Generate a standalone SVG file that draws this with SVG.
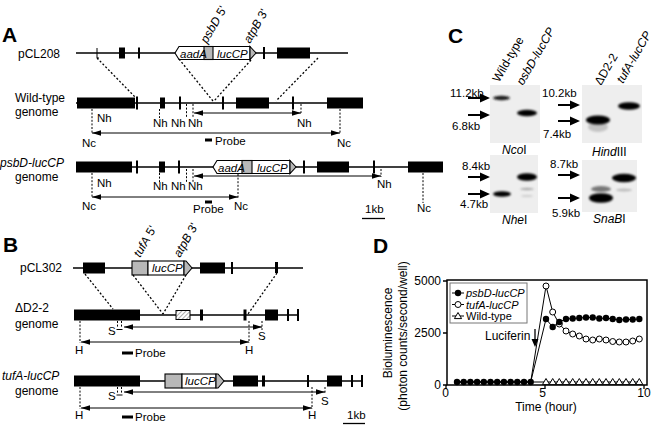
<svg xmlns="http://www.w3.org/2000/svg" width="656" height="429" viewBox="0 0 656 429">
<defs>
<style>
text{font-family:"Liberation Sans",Arial,Helvetica,sans-serif;fill:#000;font-size:12px}
.s{font-size:11.5px}
.it{font-style:italic}
.pl{font-size:21px;font-weight:bold}
.ln{stroke:#000;stroke-width:1.3;fill:none}
.tk{stroke:#000;stroke-width:2}
.ds{stroke:#000;stroke-width:1;stroke-dasharray:2 1.6;fill:none}
.dt{stroke:#000;stroke-width:1.3;stroke-dasharray:2 2;fill:none}
.ar{stroke:#000;stroke-width:1;fill:none;marker-start:url(#ah);marker-end:url(#ah)}
.cw{fill:#fff;stroke:#000;stroke-width:1.1}
.cg{fill:#b8b8b8;stroke:#000;stroke-width:1.1}
.blot{fill:#eeeeee}
.band{filter:url(#bl)}
.dl{stroke:#000;stroke-width:1;fill:none}
</style>
<marker id="ah" viewBox="0 0 10 6" refX="10" refY="3" markerWidth="9" markerHeight="6" markerUnits="userSpaceOnUse" orient="auto-start-reverse"><path d="M0,0L10,3L0,6z" fill="#000"/></marker>
<filter id="bl" x="-50%" y="-150%" width="200%" height="400%"><feGaussianBlur stdDeviation="1.1"/></filter>
<pattern id="hatch" width="3" height="3" patternUnits="userSpaceOnUse" patternTransform="rotate(45)"><rect width="3" height="3" fill="#fff"/><line x1="0" y1="0" x2="0" y2="3" stroke="#777" stroke-width="1.2"/></pattern>
<path id="ba" d="M0,-1.1H12V-4.5L22,0L12,4.5V1.1H0z" fill="#000"/>
<circle id="fc" r="3.2" fill="#000"/>
<circle id="oc" r="3" fill="#fff" stroke="#000" stroke-width="1"/>
<path id="tr" d="M0,-3.5L3.6,2.6H-3.6z" fill="#fff" stroke="#000" stroke-width="1"/>
</defs>
<rect width="656" height="429" fill="#fff"/>

<!-- ================= Panel A ================= -->
<g id="panelA">
<text class="pl" x="2" y="42">A</text>

<g id="pCL208">
<text x="18" y="58">pCL208</text>
<line class="ln" x1="76" y1="53" x2="348" y2="53"/>
<path class="dl" d="M97,48V58H99" stroke-width="1.8"/>
<rect x="119" y="47.5" width="6" height="11"/>
<line class="tk" x1="139" y1="47.5" x2="139" y2="58.5"/>
<path class="cw" d="M175,53L179,46.5H250V59.5H179Z"/>
<rect class="cg" x="204" y="46.5" width="9" height="13"/>
<path class="cg" d="M250,46.5L256,53L250,59.5Z"/>
<text class="s it" x="180" y="57.5">aadA</text>
<text class="s it" x="217" y="57.5">lucCP</text>
<text transform="translate(207,44) rotate(-60)"><tspan class="it">psbD</tspan> 5'</text>
<text transform="translate(250,44) rotate(-60)"><tspan class="it">atpB</tspan> 3'</text>
<line class="tk" x1="264" y1="47" x2="264" y2="59"/>
<rect x="277" y="47.5" width="33" height="11"/>
</g>

<g id="wildtype-genome">
<text x="15" y="102">Wild-type</text>
<text x="15" y="116">genome</text>
<line class="ln" x1="76" y1="103" x2="363" y2="103"/>
<rect x="77" y="97.5" width="58" height="11"/>
<line class="tk" x1="137" y1="96.5" x2="137" y2="109.5"/>
<rect x="160" y="97.5" width="5" height="11"/>
<line class="tk" x1="180" y1="96.5" x2="180" y2="109.5"/>
<line class="tk" x1="223" y1="96.5" x2="223" y2="109.5"/>
<rect x="236" y="97.5" width="33" height="11"/>
<line class="tk" x1="293" y1="96.5" x2="293" y2="109.5"/>
<rect x="327" y="97.5" width="36" height="11"/>
<path class="ds" d="M92,109V134M159.5,109V118M186.5,104V118M193,104V118M301,104V113M340,109V134"/>
<line class="ar" x1="194" y1="113" x2="301" y2="113"/>
<line class="ar" x1="92" y1="133" x2="340" y2="133"/>
<text class="s" x="97" y="122">Nh</text>
<text class="s" x="153" y="127">Nh</text>
<text class="s" x="171" y="127">Nh</text>
<text class="s" x="188" y="127">Nh</text>
<text class="s" x="297" y="127">Nh</text>
<text class="s" x="82" y="147">Nc</text>
<text class="s" x="337" y="147">Nc</text>
<rect x="205" y="138.5" width="7" height="3"/>
<text class="s" x="215" y="145">Probe</text>
</g>

<g id="psbD-genome">
<text class="it" x="0" y="167">psbD-lucCP</text>
<text x="15" y="181">genome</text>
<line class="ln" x1="76" y1="167" x2="408" y2="167"/>
<rect x="76" y="161.5" width="56" height="11"/>
<line class="tk" x1="137" y1="160.5" x2="137" y2="173.5"/>
<rect x="159" y="161.5" width="6" height="11"/>
<line class="tk" x1="179" y1="160.5" x2="179" y2="173.5"/>
<path class="cw" d="M213,167L217,160.5H290V173.5H217Z"/>
<rect class="cg" x="242" y="160.5" width="10" height="13"/>
<path class="cg" d="M290,160.5L296,167L290,173.5Z"/>
<text class="s it" x="218" y="171.5">aadA</text>
<text class="s it" x="257" y="171.5">lucCP</text>
<line class="tk" x1="304" y1="160.5" x2="304" y2="173.5"/>
<rect x="317" y="161.5" width="32" height="11"/>
<line class="tk" x1="374" y1="160.5" x2="374" y2="173.5"/>
<rect x="408" y="161.5" width="35" height="11"/>
<path class="ds" d="M92,173V198M159.5,173V182M186.5,169V182M193,169V182M381,169V177M238,174V198M423,173V203"/>
<line class="ar" x1="194" y1="176" x2="381" y2="176"/>
<line class="ar" x1="92" y1="197" x2="238" y2="197"/>
<text class="s" x="97" y="187">Nh</text>
<text class="s" x="153" y="190">Nh</text>
<text class="s" x="171" y="190">Nh</text>
<text class="s" x="188" y="190">Nh</text>
<text class="s" x="377" y="188">Nh</text>
<text class="s" x="82" y="210">Nc</text>
<text class="s" x="234" y="210">Nc</text>
<text class="s" x="417" y="212">Nc</text>
<rect x="205" y="200.5" width="7" height="3"/>
<text class="s" x="193" y="213">Probe</text>
<text class="s" x="365" y="213">1kb</text>
<line class="ln" x1="362" y1="218.5" x2="385" y2="218.5"/>
</g>
</g>

<!-- ================= Panel B ================= -->
<g id="panelB">
<text class="pl" x="3" y="252">B</text>

<g id="pCL302">
<text x="20" y="272">pCL302</text>
<line class="ln" x1="73" y1="268" x2="303" y2="268"/>
<rect x="83" y="262.5" width="22" height="11"/>
<rect class="cg" x="132" y="261" width="16" height="14"/>
<rect class="cw" x="148" y="261" width="36" height="14"/>
<path class="cg" d="M184,261H186L192,268L186,275H184Z"/>
<text class="s it" x="152" y="272">lucCP</text>
<text transform="translate(140,258) rotate(-60)"><tspan class="it">tufA</tspan> 5'</text>
<text transform="translate(180,258) rotate(-60)"><tspan class="it">atpB</tspan> 3'</text>
<rect x="200" y="262.5" width="25" height="11"/>
<line class="tk" x1="232" y1="262" x2="232" y2="274"/>
<rect x="275" y="262" width="3" height="11"/>
</g>

<g id="dD2-genome">
<text x="15" y="312">ΔD2-2</text>
<text x="15" y="328">genome</text>
<line class="ln" x1="74" y1="315" x2="299" y2="315"/>
<rect x="74" y="309.5" width="66" height="11"/>
<rect x="176" y="310.5" width="14" height="9" fill="url(#hatch)" stroke="#000" stroke-width="1"/>
<rect x="200" y="309.5" width="3" height="11"/>
<rect x="243.5" y="309.5" width="3" height="11"/>
<rect x="265" y="309.5" width="13" height="11"/>
<line class="tk" x1="288" y1="309" x2="288" y2="321"/>
<line class="tk" x1="298" y1="309" x2="298" y2="321"/>
<path class="ds" d="M80,321V343M249,321V343M262,321V330M117.5,321V328M121.5,321V328"/>
<path class="dl" d="M116.5,329.5H122.5"/>
<line class="ar" x1="124" y1="327" x2="262" y2="327"/>
<line class="ar" x1="81" y1="342" x2="249" y2="342"/>
<text class="s" x="108" y="335">S</text>
<text class="s" x="258" y="340">S</text>
<text class="s" x="75" y="354">H</text>
<text class="s" x="245" y="354">H</text>
<rect x="122" y="351.5" width="11" height="3"/>
<text class="s" x="135" y="357">Probe</text>
</g>

<g id="tufA-genome">
<text class="it" x="2" y="380">tufA-lucCP</text>
<text x="15" y="395">genome</text>
<line class="ln" x1="74" y1="381" x2="362" y2="381"/>
<rect x="74" y="375.5" width="66" height="11"/>
<rect class="cg" x="165" y="374" width="17" height="14"/>
<rect class="cw" x="182" y="374" width="34" height="14"/>
<path class="cg" d="M216,374H218L224,381L218,388H216Z"/>
<text class="s it" x="185" y="385">lucCP</text>
<rect x="233" y="375.5" width="25" height="11"/>
<rect x="262" y="375.5" width="3" height="11"/>
<line class="tk" x1="308" y1="375" x2="308" y2="387"/>
<rect x="327" y="375.5" width="15" height="11"/>
<line class="tk" x1="352" y1="375" x2="352" y2="387"/>
<line class="tk" x1="362" y1="375" x2="362" y2="387"/>
<path class="ds" d="M80,387V409M312,387V409M325,387V394M117.5,387V394M121.5,387V394"/>
<path class="dl" d="M116.5,395H122.5"/>
<line class="ar" x1="124" y1="392" x2="325" y2="392"/>
<line class="ar" x1="81" y1="408" x2="312" y2="408"/>
<text class="s" x="108" y="400">S</text>
<text class="s" x="321" y="405">S</text>
<text class="s" x="75" y="419">H</text>
<text class="s" x="308" y="419">H</text>
<rect x="122" y="415.5" width="11" height="3"/>
<text class="s" x="135" y="421">Probe</text>
<text class="s" x="347" y="419">1kb</text>
<line class="ln" x1="343" y1="423.5" x2="365" y2="423.5"/>
</g>
</g>

<!-- connectors -->
<g id="connectors">
<path class="dt" d="M97,58L136,98M179,59L213,101M251,60L214,101M318,58L276,101"/>
<path class="dt" d="M85,274L113,309M133,275L163,314M186,275L163,314M277,273L248,314"/>
</g>

<!-- ================= Panel C ================= -->
<g id="panelC">
<text class="pl" x="448" y="43">C</text>
<text transform="translate(499,83) rotate(-60)">Wild-type</text>
<text class="it" transform="translate(523,86) rotate(-60)">psbD-lucCP</text>
<text transform="translate(601,86) rotate(-60)">ΔD2-2</text>
<text class="it" transform="translate(623,84) rotate(-60)">tufA-lucCP</text>

<g id="blot-NcoI">
<rect class="blot" x="490" y="85" width="50" height="58"/>
<ellipse class="band" cx="501.5" cy="98" rx="8.5" ry="2.2" fill="#1a1a1a"/>
<ellipse class="band" cx="527" cy="113" rx="10" ry="3.2" fill="#000"/>
<use href="#ba" x="468" y="98"/>
<use href="#ba" x="468" y="115"/>
<text class="s" x="450" y="97">11.2kb</text>
<text class="s" x="452" y="130">6.8kb</text>
<text x="502" y="154"><tspan class="it">Nco</tspan>I</text>
</g>

<g id="blot-HindIII">
<rect class="blot" x="582" y="85" width="60" height="58"/>
<ellipse class="band" cx="629" cy="106" rx="11" ry="3.8" fill="#000"/>
<ellipse class="band" cx="598" cy="127" rx="10" ry="5" fill="#999" opacity="0.5"/>
<ellipse class="band" cx="598" cy="120" rx="12" ry="4.5" fill="#000"/>
<use href="#ba" x="558" y="105"/>
<use href="#ba" x="558" y="121"/>
<text class="s" x="542" y="97">10.2kb</text>
<text class="s" x="543" y="138">7.4kb</text>
<text x="592" y="156"><tspan class="it">Hind</tspan>III</text>
</g>

<g id="blot-NheI">
<rect class="blot" x="490" y="155" width="48" height="58"/>
<ellipse class="band" cx="527" cy="177" rx="10" ry="3.8" fill="#000"/>
<ellipse class="band" cx="527" cy="189" rx="7" ry="1.2" fill="#aaa"/>
<ellipse class="band" cx="527" cy="196" rx="6" ry="1" fill="#ccc"/>
<ellipse class="band" cx="502" cy="194" rx="9" ry="2.8" fill="#000"/>
<use href="#ba" x="468" y="177"/>
<use href="#ba" x="468" y="194"/>
<text class="s" x="462" y="170">8.4kb</text>
<text class="s" x="460" y="208">4.7kb</text>
<text x="502" y="224"><tspan class="it">Nhe</tspan>I</text>
</g>

<g id="blot-SnaBI">
<rect class="blot" x="582" y="160" width="55" height="52"/>
<ellipse class="band" cx="624" cy="178" rx="12" ry="4.2" fill="#000"/>
<ellipse class="band" cx="624" cy="190" rx="8" ry="1.5" fill="#bbb"/>
<ellipse class="band" cx="601" cy="189" rx="10" ry="3" fill="#777"/>
<ellipse class="band" cx="601" cy="198" rx="12" ry="4.8" fill="#000"/>
<use href="#ba" x="558" y="175"/>
<use href="#ba" x="558" y="198"/>
<text class="s" x="550" y="168">8.7kb</text>
<text class="s" x="552" y="217">5.9kb</text>
<text x="593" y="223"><tspan class="it">SnaB</tspan>I</text>
</g>
</g>

<!-- ================= Panel D ================= -->
<g id="panelD">
<text class="pl" x="373" y="253">D</text>
<text transform="translate(392,333) rotate(-90)" text-anchor="middle">Bioluminescence</text>
<text transform="translate(407,336) rotate(-90)" text-anchor="middle">(photon counts/second/well)</text>
<rect x="447" y="280" width="200" height="105" fill="none" stroke="#000" stroke-width="1.5"/>
<path d="M443,281H447M443,333H447M443,385H447M446,385V389M545,385V389M644,385V389" stroke="#000" stroke-width="1.3"/>
<text x="441" y="285" text-anchor="end">5000</text>
<text x="441" y="337" text-anchor="end">2500</text>
<text x="441" y="389" text-anchor="end">0</text>
<text x="445.5" y="397" text-anchor="middle">0</text>
<text x="542.5" y="397" text-anchor="middle">5</text>
<text x="644" y="397" text-anchor="middle">10</text>
<text x="546" y="411" text-anchor="middle">Time (hour)</text>

<g id="legend">
<rect x="450" y="283" width="77" height="40" fill="#fff" stroke="#777" stroke-width="1"/>
<path d="M452,293H464M452,304.5H464M452,316H464" stroke="#000" stroke-width="1"/>
<use href="#fc" x="458" y="293"/>
<use href="#oc" x="458" y="304.5"/>
<use href="#tr" x="458" y="316"/>
<text class="it" x="466" y="297" style="font-size:11px">psbD-lucCP</text>
<text class="it" x="466" y="308.5" style="font-size:11px">tufA-lucCP</text>
<text x="466" y="320" style="font-size:11px">Wild-type</text>
</g>

<g id="series-wt">
<polyline class="dl" points="457,382 639.3,382"/>
<use href="#tr" x="546" y="382"/><use href="#tr" x="552.7" y="382"/><use href="#tr" x="559.3" y="382"/><use href="#tr" x="566" y="382"/><use href="#tr" x="572.7" y="382"/><use href="#tr" x="579.3" y="382"/><use href="#tr" x="586" y="382"/><use href="#tr" x="592.7" y="382"/><use href="#tr" x="599.3" y="382"/><use href="#tr" x="606" y="382"/><use href="#tr" x="612.7" y="382"/><use href="#tr" x="619.3" y="382"/><use href="#tr" x="626" y="382"/><use href="#tr" x="632.7" y="382"/><use href="#tr" x="639.3" y="382"/>
</g>
<g id="series-tufA">
<polyline class="dl" points="457,382 530.7,382 546,286 552.7,312 559.3,324 566,331 572.7,334 579.3,336 586,339 592.7,340 599.3,339 606,340 612.7,341.5 619.3,342 626,342 632.7,341 639.3,339"/>
<use href="#oc" x="546" y="286"/><use href="#oc" x="552.7" y="312"/><use href="#oc" x="559.3" y="324"/><use href="#oc" x="566" y="331"/><use href="#oc" x="572.7" y="334"/><use href="#oc" x="579.3" y="336"/><use href="#oc" x="586" y="339"/><use href="#oc" x="592.7" y="340"/><use href="#oc" x="599.3" y="339"/><use href="#oc" x="606" y="340"/><use href="#oc" x="612.7" y="341.5"/><use href="#oc" x="619.3" y="342"/><use href="#oc" x="626" y="342"/><use href="#oc" x="632.7" y="341"/><use href="#oc" x="639.3" y="339"/>
</g>
<g id="series-psbD">
<polyline class="dl" points="457,382 530.7,382 546,319 552.7,327 559.3,322 566,319 572.7,318.5 579.3,318 586,317.5 592.7,317.5 599.3,318.5 606,318 612.7,319 619.3,320 626,319.5 632.7,319.5 639.3,319"/>
<use href="#fc" x="457" y="382"/><use href="#fc" x="463.7" y="382"/><use href="#fc" x="470.4" y="382"/><use href="#fc" x="477.1" y="382"/><use href="#fc" x="483.8" y="382"/><use href="#fc" x="490.5" y="382"/><use href="#fc" x="497.2" y="382"/><use href="#fc" x="503.9" y="382"/><use href="#fc" x="510.6" y="382"/><use href="#fc" x="517.3" y="382"/><use href="#fc" x="524" y="382"/><use href="#fc" x="530.7" y="382"/>
<use href="#fc" x="546" y="319"/><use href="#fc" x="552.7" y="327"/><use href="#fc" x="559.3" y="322"/><use href="#fc" x="566" y="319"/><use href="#fc" x="572.7" y="318.5"/><use href="#fc" x="579.3" y="318"/><use href="#fc" x="586" y="317.5"/><use href="#fc" x="592.7" y="317.5"/><use href="#fc" x="599.3" y="318.5"/><use href="#fc" x="606" y="318"/><use href="#fc" x="612.7" y="319"/><use href="#fc" x="619.3" y="320"/><use href="#fc" x="626" y="319.5"/><use href="#fc" x="632.7" y="319.5"/><use href="#fc" x="639.3" y="319"/>
</g>
<g id="luciferin">
<text x="485" y="340">Luciferin</text>
<path d="M535,329V340" stroke="#000" stroke-width="1.3"/>
<path d="M531.5,339H538.5L535,347Z" fill="#000"/>
</g>
</g>
</svg>
